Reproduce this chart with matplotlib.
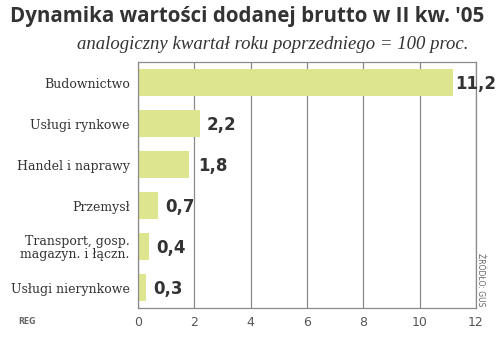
import matplotlib.pyplot as plt

# ============================================================
# DATA
# ============================================================
kategorie = ["Budownictwo", "Usługi rynkowe", "Handel i naprawy", "Przemysł",
             "Transport, gosp.\nmagazyn. i łączn.", "Usługi nierynkowe"]
wartosci = [11.2, 2.2, 1.8, 0.7, 0.4, 0.3]
etykiety = ["11,2", "2,2", "1,8", "0,7", "0,4", "0,3"]
ticki = [0, 2, 4, 6, 8, 10, 12]

KOLOR_SLUPKA = "#dde68e"
SZARY = "#8a8a8a"
CIEMNY = "#333333"

# ============================================================
# WYKRES
# ============================================================
fig = plt.figure(figsize=(5.0, 3.37), dpi=100)
ax = fig.add_axes([0.276, 0.086, 0.676, 0.730])

pozycje = list(range(len(kategorie)))
ax.barh(pozycje, wartosci, height=0.65, color=KOLOR_SLUPKA, zorder=2)

# pierwszy napis siedzi tuz przy slupku, bo brakuje miejsca
przesuniecia = [1.5, 5, 7, 5.5, 5, 5]
for p, w, e, dx in zip(pozycje, wartosci, etykiety, przesuniecia):
    ax.annotate(e, (w, p), xytext=(dx, -1), textcoords="offset points",
                ha="left", va="center", fontsize=12, fontweight="bold",
                color=CIEMNY, family="DejaVu Sans", annotation_clip=False)

ax.set_xlim(0, 12)
ax.set_ylim(len(kategorie) - 0.5, -0.5)
ax.set_xticks(ticki)
ax.set_xticklabels([str(t) for t in ticki], color="#555555", fontsize=9)
ax.set_yticks(pozycje)
ax.set_yticklabels(kategorie, fontsize=9, color=CIEMNY, family="DejaVu Serif",
                   linespacing=0.95)
ax.tick_params(axis="both", length=0, pad=6)
ax.grid(axis="x", color=SZARY, linewidth=0.9, zorder=1)

for s in ax.spines.values():
    s.set_color(SZARY)
    s.set_linewidth(0.9)

# ============================================================
# TEKSTY
# ============================================================
fig.text(0.495, 0.952, "Dynamika wartości dodanej brutto w II kw. '05",
         ha="center", va="center", fontsize=14.8, fontweight="bold", color=CIEMNY,
         family="Open Sans")
fig.text(0.545, 0.868, "analogiczny kwartał roku poprzedniego = 100 proc.",
         ha="center", va="center", fontsize=13.5, style="italic", color=CIEMNY,
         family="Liberation Serif")
fig.text(0.036, 0.045, "REG", fontsize=5.5, fontweight="bold", color="#666666",
         ha="left", va="center")
fig.text(0.962, 0.17, "ŹRÓDŁO: GUS", fontsize=5.5, color="#666666",
         rotation=270, ha="center", va="center")

fig.savefig("out.png", dpi=100, facecolor="white")
